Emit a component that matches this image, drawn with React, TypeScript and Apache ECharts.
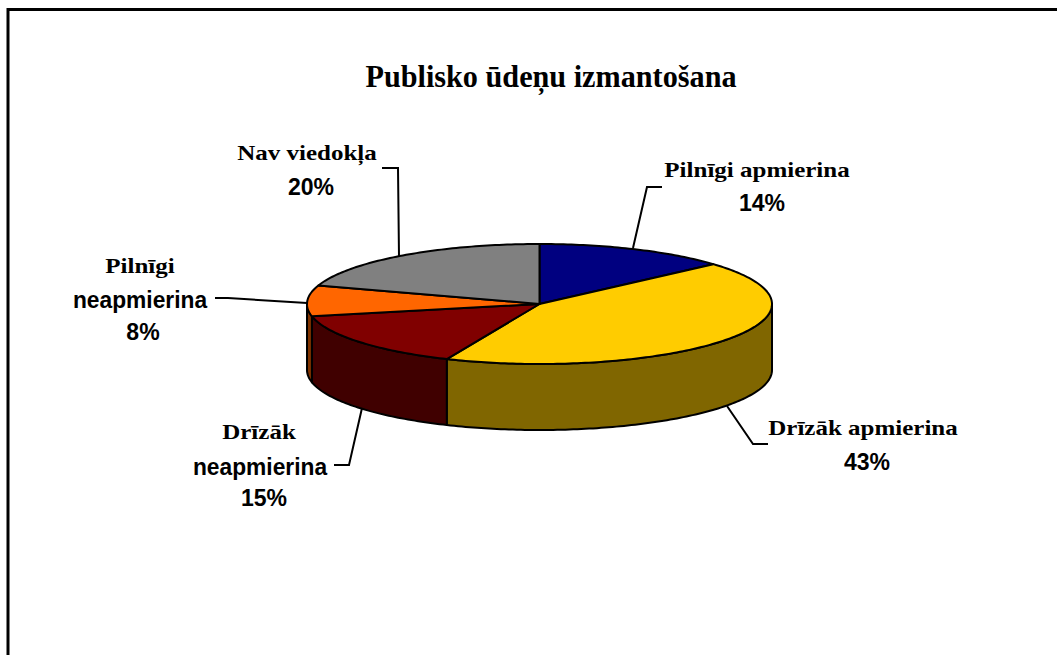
import React, { useEffect, useRef } from "react";
import * as echarts from "echarts";

const chartTitle = "Publisko ūdeņu izmantošana";
const categories = ["Pilnīgi apmierina", "Drīzāk apmierina", "Drīzāk neapmierina", "Pilnīgi neapmierina", "Nav viedokļa"];
const shareValues = [14, 43, 15, 8, 20];
const topColors = ["#000080", "#FFCC00", "#800000", "#FF6600", "#808080"];
const sideColors = ["#000040", "#806600", "#400000", "#803300", "#404040"];

const SERIF = "'Liberation Serif', 'Times New Roman', serif";
const SANS = "'Liberation Sans', Arial, sans-serif";

// Pie geometry
const CX = 539.5;
const CY = 304;
const RX = 232.5;
const RY = 60;
const DEPTH = 66;
// Small on-screen angle corrections for the reference's perspective projection (degrees, per slice boundary)
const boundaryNudge = [0, -2, -1.7, -1, 0, 0];

const ellipsePoint = (deg: number, dy = 0): number[] => {
  const a = (deg * Math.PI) / 180;
  return [CX + RX * Math.sin(a), CY - RY * Math.cos(a) + dy];
};

const total = shareValues.reduce((s, v) => s + v, 0);
const sliceStart = (i: number) =>
  (shareValues.slice(0, i).reduce((s, v) => s + v, 0) / total) * 360 + boundaryNudge[i];
const sliceEnd = (i: number) => sliceStart(i + 1);

const arcPoints = (from: number, to: number, dy = 0): number[][] => {
  const pts: number[][] = [];
  const steps = Math.max(1, Math.ceil(to - from));
  for (let k = 0; k <= steps; k++) pts.push(ellipsePoint(from + ((to - from) * k) / steps, dy));
  return pts;
};

const renderSide = (params: any) => {
  const i = params.dataIndex;
  const from = Math.max(sliceStart(i), 90);
  const to = Math.min(sliceEnd(i), 270);
  if (to <= from) return { type: "group", children: [] };
  const pts = [...arcPoints(from, to), ...arcPoints(from, to, DEPTH).reverse()];
  return {
    type: "polygon",
    shape: { points: pts },
    style: { fill: sideColors[i], stroke: "#000", lineWidth: 2, lineJoin: "round" },
  };
};

const renderTop = (params: any) => {
  const i = params.dataIndex;
  const pts = [[CX, CY], ...arcPoints(sliceStart(i), sliceEnd(i))];
  return {
    type: "polygon",
    shape: { points: pts },
    style: { fill: topColors[i], stroke: "#000", lineWidth: 2, lineJoin: "round" },
  };
};

type LabelLine = { text: string; x: number; y: number; font: string; size: number; sx: number };

const NAME_SIZE = 21;
const NAME_SX = 1.19;
const SANS_SIZE = 24;
const WORD_SX = 0.95;
const PCT_SX = 0.96;

// Label layout: [category name lines, then the percent], per slice
const labelLayout: LabelLine[][] = [
  [
    { text: categories[0], x: 757, y: 170, font: SERIF, size: NAME_SIZE, sx: NAME_SX },
    { text: `${shareValues[0]}%`, x: 762, y: 203, font: SANS, size: SANS_SIZE, sx: PCT_SX },
  ],
  [
    { text: categories[1], x: 863, y: 428, font: SERIF, size: NAME_SIZE, sx: NAME_SX },
    { text: `${shareValues[1]}%`, x: 867, y: 462, font: SANS, size: SANS_SIZE, sx: PCT_SX },
  ],
  [
    { text: "Drīzāk", x: 259, y: 432, font: SERIF, size: NAME_SIZE, sx: NAME_SX },
    { text: "neapmierina", x: 260, y: 467, font: SANS, size: SANS_SIZE, sx: WORD_SX },
    { text: `${shareValues[2]}%`, x: 264, y: 498, font: SANS, size: SANS_SIZE, sx: PCT_SX },
  ],
  [
    { text: "Pilnīgi", x: 140, y: 266, font: SERIF, size: NAME_SIZE, sx: NAME_SX },
    { text: "neapmierina", x: 140, y: 300, font: SANS, size: SANS_SIZE, sx: WORD_SX },
    { text: `${shareValues[3]}%`, x: 143, y: 332, font: SANS, size: SANS_SIZE, sx: PCT_SX },
  ],
  [
    { text: categories[4], x: 307, y: 153, font: SERIF, size: NAME_SIZE, sx: NAME_SX },
    { text: `${shareValues[4]}%`, x: 311, y: 187, font: SANS, size: SANS_SIZE, sx: PCT_SX },
  ],
];

const leaderLines: number[][][] = [
  [[662, 187], [647, 187], [633, 248]],
  [[727, 406], [753, 444], [768, 444]],
  [[362, 408], [349, 465], [334, 465]],
  [[215, 298], [228, 298], [307, 303]],
  [[382, 168], [398, 168], [399, 256]],
];

export default function App() {
  const ref = useRef<HTMLDivElement>(null);
  useEffect(() => {
    if (!ref.current) return;
    const chart = echarts.init(ref.current, undefined, { renderer: "svg" });
    const seriesData = categories.map((name, i) => ({ name, value: shareValues[i] }));
    const graphics: any[] = [
      { type: "line", shape: { x1: 8, y1: 9.5, x2: 1057, y2: 9.5 }, style: { stroke: "#000", lineWidth: 3 } },
      { type: "line", shape: { x1: 8, y1: 8, x2: 8, y2: 655 }, style: { stroke: "#000", lineWidth: 3 } },
      {
        type: "text",
        x: 551,
        y: 77,
        scaleX: 0.975,
        style: { text: chartTitle, fill: "#000", font: `bold 31px ${SERIF}`, align: "center", verticalAlign: "middle" },
      },
      ...leaderLines.map((points) => ({
        type: "polyline",
        z: 5,
        shape: { points },
        style: { stroke: "#000", lineWidth: 2, fill: "none" },
      })),
      ...labelLayout.flat().map((l) => ({
        type: "text",
        x: l.x,
        y: l.y,
        scaleX: l.sx,
        style: { text: l.text, fill: "#000", font: `bold ${l.size}px ${l.font}`, align: "center", verticalAlign: "middle" },
      })),
    ];
    chart.setOption({
      animation: false,
      backgroundColor: "#fff",
      graphic: graphics,
      series: [
        { type: "custom", coordinateSystem: "none", renderItem: renderSide, data: seriesData, z: 1, silent: true },
        { type: "custom", coordinateSystem: "none", renderItem: renderTop, data: seriesData, z: 2, silent: true },
      ],
    });
    return () => chart.dispose();
  }, []);
  return <div ref={ref} style={{ position: "absolute", left: 0, top: 0, width: 1057, height: 655 }} />;
}
